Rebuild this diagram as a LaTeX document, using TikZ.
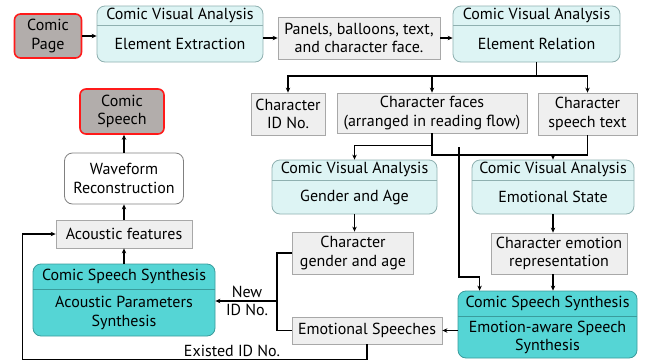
\documentclass[tikz,border=0pt]{standalone}
\usepackage{fontspec}
\setmainfont{PT Sans}
\usetikzlibrary{arrows.meta,calc}

\definecolor{cvafill}{HTML}{DDF4F4}
\definecolor{cvaline}{HTML}{8FB0B0}
\definecolor{cssfill}{HTML}{55D5D5}
\definecolor{cssline}{HTML}{3A9C9C}
\definecolor{datfill}{HTML}{EFEFEF}
\definecolor{datline}{HTML}{A8A8A8}
\definecolor{pagefill}{HTML}{B2ADAB}
\definecolor{pageline}{HTML}{FF1A1A}

\tikzset{
  txt/.style={inner sep=0pt, align=center, font=\fontsize{16}{18.5}\selectfont},
  page/.style={txt, draw=pageline, line width=1.6pt, fill=pagefill, rounded corners=6pt},
  dat/.style={txt, draw=datline, line width=.8pt, fill=datfill},
  cva/.style={txt, draw=cvaline, line width=.8pt, fill=cvafill, rounded corners=8pt},
  css/.style={txt, draw=cssline, line width=.8pt, fill=cssfill, rounded corners=8pt},
  wave/.style={txt, draw=gray, line width=.8pt, fill=white, rounded corners=8pt},
  head/.style={txt, anchor=north},
  link/.style={line width=1.3pt, -{Stealth[length=5pt,width=4.5pt]}},
  wire/.style={line width=1.3pt},
}

\begin{document}
\begin{tikzpicture}[x=1pt, y=-1pt]
  \useasboundingbox (0,0) rectangle (646,362);

  % top row
  \node (page) at (48,36) [page, minimum width=67, minimum height=44] {Comic\\Page};

  \node (extr) at (180,34) [cva, minimum width=166, minimum height=56] {};
  \node (extr-h) at (extr.north) [head, minimum width=166, minimum height=19] {Comic Visual Analysis};
  \draw[cvaline, line width=.8pt] (extr-h.south west) -- (extr-h.south east);
  \node (extr-b) at ($(extr-h.south)!.5!(extr.south)$) [txt] {Element Extraction};

  \node (panels) at (359,38) [dat, minimum width=162, minimum height=42] {Panels, balloons, text,\\and character face.};

  \node (rel) at (536.5,34) [cva, minimum width=167, minimum height=56] {};
  \node (rel-h) at (rel.north) [head, minimum width=167, minimum height=19] {Comic Visual Analysis};
  \draw[cvaline, line width=.8pt] (rel-h.south west) -- (rel-h.south east);
  \node (rel-b) at ($(rel-h.south)!.5!(rel.south)$) [txt] {Element Relation};

  \draw[link] (page.east) -- (page.east -| extr.west);
  \draw[link] (panels.west -| extr.east) -- (panels.west);
  \draw[link] (panels.east) -- (panels.east -| rel.west);

  % elements
  \node (charid) at (288,114) [dat, minimum width=74, minimum height=42] {Character\\ID No.};
  \node (faces) at (432,113) [dat, minimum width=190, minimum height=40] {Character faces\\(arranged in reading flow)};
  \node (speech) at (587.5,114) [dat, minimum width=99, minimum height=42] {Character\\speech text};

  \coordinate (fork) at (536.5,76);
  \draw[wire] (rel.south) -- (fork);
  \draw[link] (fork) -| (charid.north);
  \draw[link] (fork -| faces.north) -- (faces.north);
  \draw[link] (fork) -| (speech.north);

  % visual analysis
  \node (gend) at (354.5,187) [cva, minimum width=165, minimum height=54] {};
  \node (gend-h) at (gend.north) [head, minimum width=165, minimum height=20] {Comic Visual Analysis};
  \draw[cvaline, line width=.8pt] (gend-h.south west) -- (gend-h.south east);
  \node (gend-b) at ($(gend-h.south)!.5!(gend.south)$) [txt] {Gender and Age};

  \node (emo) at (553,187) [cva, minimum width=162, minimum height=54] {};
  \node (emo-h) at (emo.north) [head, minimum width=162, minimum height=20] {Comic Visual Analysis};
  \draw[cvaline, line width=.8pt] (emo-h.south west) -- (emo-h.south east);
  \node (emo-b) at ($(emo-h.south)!.5!(emo.south)$) [txt] {Emotional State};

  \draw[link] (faces.south) -- ++(0,12) -| (gend.north);
  \draw[wire] (faces.south) |- (speech.south |- 0,155) -- (speech.south);
  \draw[link] (emo.north |- 0,155) -- (emo.north);

  \node (gage) at (353,253) [dat, minimum width=121, minimum height=42] {Character\\gender and age};
  \node (erep) at (559,253.5) [dat, minimum width=136, minimum height=41] {Character emotion\\representation};
  \draw[link] (gend.south) -- (gend.south |- gage.north);
  \draw[link] (emo.south) -- (emo.south |- erep.north);

  % emotion-aware synthesis
  \node (eass) at (547.5,324.5) [css, minimum width=179, minimum height=67] {};
  \node (eass-h) at (eass.north) [head, minimum width=179, minimum height=25] {Comic Speech Synthesis};
  \draw[cssline, line width=.8pt] (eass-h.south west) -- (eass-h.south east);
  \node (eass-b) at ($(eass-h.south)!.5!(eass.south)$) [txt] {Emotion-aware Speech\\Synthesis};

  \draw[link] (emo.south |- erep.south) -- (emo.south |- eass.north);
  \coordinate (idtap) at (459,147);
  \draw[link] (idtap) -- ++(0,130) -| ($(eass.north west)+(22,0)$);

  \node (espch) at (367,330.5) [dat, minimum width=150, minimum height=27] {Emotional Speeches};
  \draw[link] (eass.west |- espch) -- (espch.east);

  % acoustic side
  \node (apar) at (124,300) [css, minimum width=182, minimum height=72] {};
  \node (apar-h) at (apar.north) [head, minimum width=182, minimum height=25] {Comic Speech Synthesis};
  \draw[cssline, line width=.8pt] (apar-h.south west) -- (apar-h.south east);
  \node (apar-b) at ($(apar-h.south)!.5!(apar.south)$) [txt] {Acoustic Parameters\\Synthesis};

  \coordinate (brk) at (277,301);
  \draw[wire] (gage.west) -| (brk) |- (espch.west);
  \draw[link] (brk) -- (brk -| apar.east);
  \node (newid) at (247,301) [txt] {New\\ID No.};

  \node (afeat) at (124,234) [dat, minimum width=136, minimum height=28] {Acoustic features};
  \node (wave) at (124,178.5) [wave, minimum width=119, minimum height=51] {Waveform\\Reconstruction};
  \node (cspeech) at (122,111.5) [page, minimum width=84, minimum height=45] {Comic\\Speech};

  \draw[link] (espch.south) -- ++(0,15) -| ($(afeat.west)+(-33,0)$) -- (afeat.west);
  \node (exid) at (232,351) [txt] {Existed ID No.};

  \draw[link] (apar.north) -- (apar.north |- afeat.south);
  \draw[link] (afeat.north) -- (afeat.north |- wave.south);
  \draw[link] (wave.north) -- (wave.north |- cspeech.south);
\end{tikzpicture}
\end{document}
